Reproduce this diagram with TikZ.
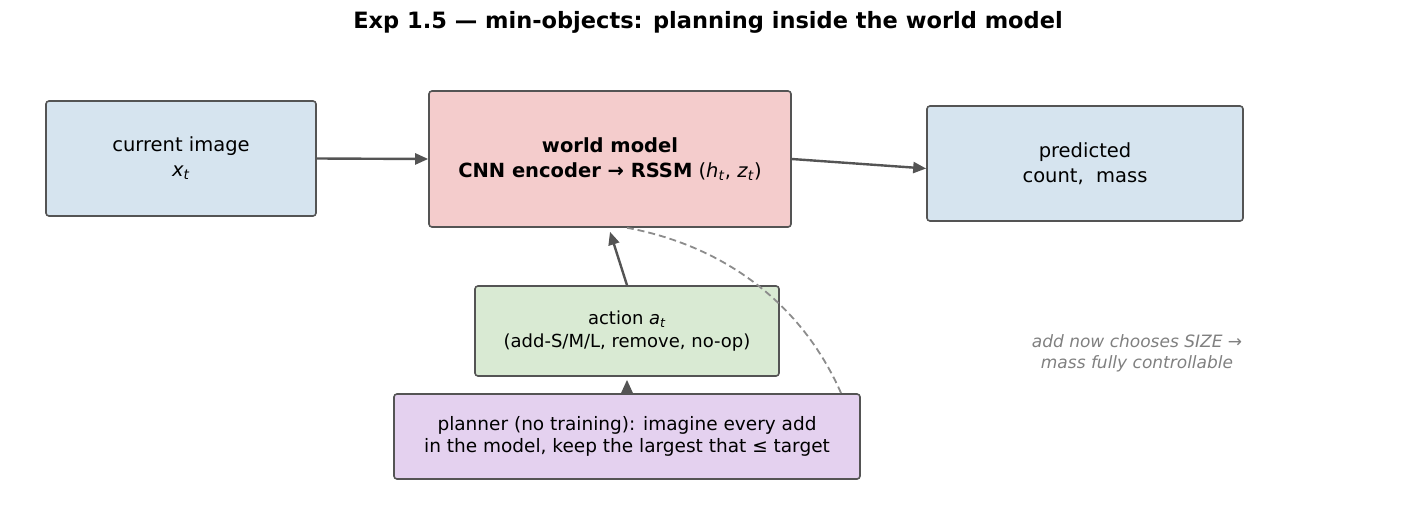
\documentclass[tikz,border=0pt]{standalone}
\usepackage{fontspec}
\setmainfont{DejaVu Sans}
\usetikzlibrary{arrows.meta}
\newcommand{\mysub}[2]{\textit{#1}\textsubscript{\textit{#2}}}
\begin{document}
\begin{tikzpicture}[x=1pt,y=-1pt,
  box/.style={draw=black!67,line width=1.6pt,rounded corners=3pt,align=center,font=\fontsize{19.5}{25}\selectfont},
  arr/.style={draw=black!67,line width=2.4pt,-{Triangle[length=13pt,width=11pt]}}]
\useasboundingbox (0,0) rectangle (1417,506);
\node[font=\bfseries\fontsize{22.5}{26}\selectfont] (title) at (708,22) {Exp 1.5 — min-objects: planning inside the world model};
\node[box,fill={rgb,255:red,214;green,228;blue,239},minimum width=270pt,minimum height=115pt] (cur) at (181,158.5) {current image\\\mysub{x}{t}};
\node[box,fill={rgb,255:red,244;green,204;blue,204},minimum width=362pt,minimum height=136pt] (wm) at (610,159) {\textbf{world model}\\\textbf{CNN encoder → RSSM} (\mysub{h}{t}, \mysub{z}{t})};
\node[box,fill={rgb,255:red,214;green,228;blue,239},minimum width=316pt,minimum height=115pt] (pred) at (1085,163.5) {predicted\\count,\ \ mass};
\node[box,fill={rgb,255:red,217;green,234;blue,211},minimum width=304pt,minimum height=90pt,font=\fontsize{18}{23}\selectfont] (act) at (627,331) {action \mysub{a}{t}\\(add-S/M/L, remove, no-op)};
\node[box,fill={rgb,255:red,228;green,209;blue,239},minimum width=466pt,minimum height=85pt,font=\fontsize{18.5}{22}\selectfont] (plan) at (627,436.5) {planner (no training): imagine every add\\in the model, keep the largest that ≤ target};
\node[align=center,text=black!50,font=\itshape\fontsize{17}{21}\selectfont] (note) at (1137,353) {add now chooses SIZE →\\mass fully controllable};
\draw[arr] (cur.east) -- (wm.west);
\draw[arr] (wm.east) -- ([yshift=-5pt]pred.west);
\draw[arr] (act.north) -- ([yshift=-4pt]wm.south);
\draw[arr] (plan.north) -- ([yshift=-3pt]act.south);
\coordinate (ds) at (841,393);
\draw[black!45,line width=1.8pt,dash pattern=on 7pt off 4pt] (ds) .. controls (800,300) and (720,245) .. ([xshift=17pt]wm.south);
\end{tikzpicture}
\end{document}
